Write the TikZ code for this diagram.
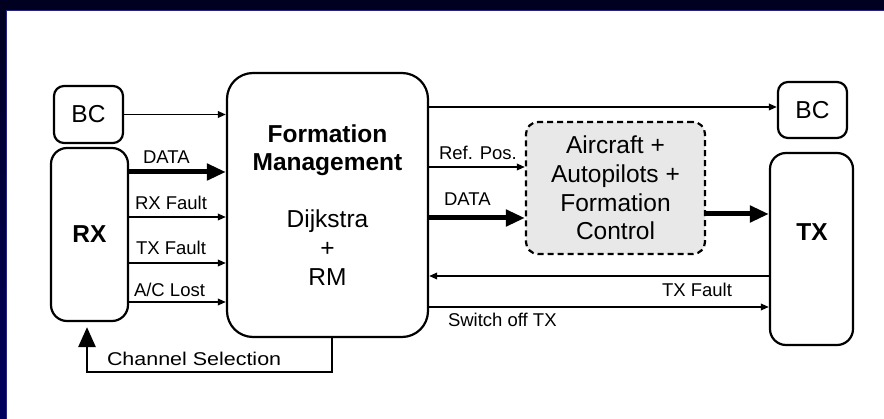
\documentclass[tikz,border=0pt]{standalone}
\usepackage{fontspec}
\setmainfont{Liberation Sans}
\usetikzlibrary{arrows.meta,calc}
\definecolor{navytop}{HTML}{000020}
\definecolor{navylow}{HTML}{00005E}
\definecolor{navyedge}{HTML}{262680}
\definecolor{boxgray}{HTML}{E8E8E8}
\newcommand{\lblfont}{\fontsize{18.5}{22}\selectfont}
\newcommand{\bigfont}{\fontsize{24.5}{28.7}\selectfont}
\tikzset{
  rbox/.style={draw=black, line width=2.2pt, rounded corners=#1, inner sep=0pt, fill=white},
  txt/.style={inner sep=0pt, outer sep=0pt},
  lbl/.style={txt, font=\lblfont, anchor=base west},
  thinarrow/.style={line width=1.8pt, -{Triangle[length=8pt,width=6.5pt]}},
  thickarrow/.style={line width=5pt, -{Triangle[length=19pt,width=16pt]}},
  chanarrow/.style={line width=2.8pt, -{Triangle[length=20pt,width=17pt]}, rounded corners=0pt},
}
\begin{document}
\begin{tikzpicture}[x=1pt,y=-1pt]
\useasboundingbox (0,0) rectangle (884,419);
% background
\fill[navytop] (0,0) rectangle (884,10);
\shade[top color=navytop, bottom color=navylow] (0,0) rectangle (6,419);
\fill[white] (6,10) rectangle (884,419);
\draw[navyedge, line width=0.8pt] (6,419) -- (6,10) -- (884,10);

% boxes
\node[rbox=10pt, minimum width=69pt, minimum height=57pt, font=\bigfont] (bcl) at (88.5,114.5) {BC};
\node[rbox=16pt, minimum width=77pt, minimum height=173pt, font=\bigfont\bfseries] (rx) at (89.5,234.5) {RX};
\node[rbox=26pt, minimum width=201pt, minimum height=264pt] (fm) at (327.5,205) {};
\node[rbox=10pt, minimum width=69pt, minimum height=56pt, font=\bigfont] (bcr) at (812.5,110) {BC};
\node[rbox=16pt, minimum width=83pt, minimum height=192pt] (tx) at (811.5,249) {};
\node[txt, font=\bigfont\bfseries] (txlabel) at (812,232) {TX};
\node[rbox=12pt, dashed, dash pattern=on 6pt off 4pt, fill=boxgray, minimum width=179pt, minimum height=132pt,
      font=\bigfont, align=center] (ac) at (615.5,188) {Aircraft +\\Autopilots +\\Formation\\Control};

% formation management texts
\node[txt, font=\bigfont\bfseries, anchor=base] (fmt1) at (327.5,143) {Formation};
\node[txt, font=\bigfont\bfseries, anchor=base] (fmt2) at (327.5,171) {Management};
\node[txt, font=\bigfont, anchor=base] (fmt3) at (327.5,228) {Dijkstra};
\node[txt, font=\bigfont, anchor=base] (fmt4) at (327.5,257) {+};
\node[txt, font=\bigfont, anchor=base] (fmt5) at (327.5,286) {RM};

% left connectors
\draw[thinarrow] (bcl.east) -- (bcl.east -| fm.west);
\draw[thickarrow] (rx.east |- 0,172) -- (fm.west |- 0,172);
\draw[thinarrow] (rx.east |- 0,217) -- (fm.west |- 0,217);
\draw[thinarrow] (rx.east |- 0,263) -- (fm.west |- 0,263);
\draw[thinarrow] (rx.east |- 0,302) -- (fm.west |- 0,302);
\draw[chanarrow, shorten >=5pt] (fm.south -| 332,0) -- ++(0,34) -| (rx.south -| 87,0);

% right connectors
\draw[thinarrow] (fm.east |- 0,107) -- (bcr.west |- 0,107);
\draw[thinarrow] (fm.east |- 0,167) -- (ac.west |- 0,167);
\draw[thickarrow] (fm.east |- 0,218) -- (ac.west |- 0,218);
\draw[thickarrow] (ac.east |- 0,214) -- (tx.west |- 0,214);
\draw[thinarrow] (tx.west |- 0,276) -- (fm.east |- 0,276);
\draw[thinarrow] (fm.east |- 0,307) -- (tx.west |- 0,307);

% labels
\node[lbl] (ldata) at (143,164) {DATA};
\node[lbl] (lrxf) at (135,210) {RX Fault};
\node[lbl] (ltxf) at (136,255) {TX Fault};
\node[lbl] (lac) at (134,297) {A/C Lost};
\node[lbl] (lchan) at (107,366) {\scalebox{1.16}[1]{Channel Selection}};
\node[lbl] (lref) at (439,160) {Ref. Pos.};
\node[lbl] (ldata2) at (444,206) {DATA};
\node[lbl] (ltxf2) at (662,297) {TX Fault};
\node[lbl] (lsw) at (448,327) {Switch off TX};
\end{tikzpicture}
\end{document}
